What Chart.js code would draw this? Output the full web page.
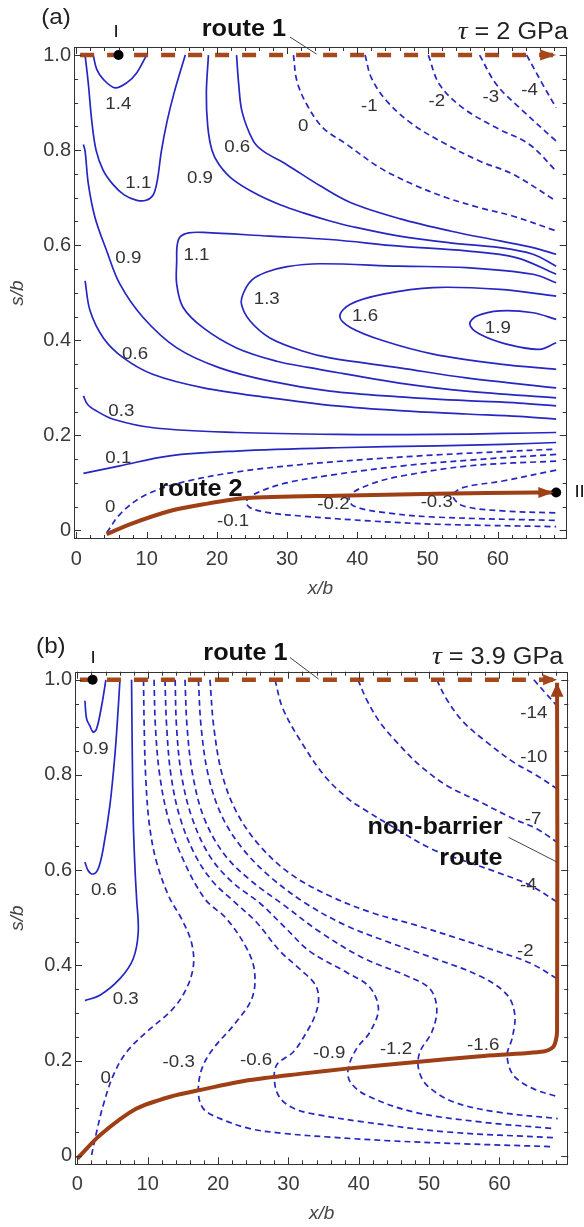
<!DOCTYPE html>
<html>
<head>
<meta charset="utf-8">
<script src="https://cdn.jsdelivr.net/npm/chart.js@4.4.0/dist/chart.umd.min.js"></script>
<style>
  html, body { margin: 0; padding: 0; background: #fff; }
  body { width: 584px; height: 1227px; position: relative; overflow: hidden; }
  .panel { position: absolute; left: 0; width: 584px; }
  #wrapA { top: 0; height: 605px; }
  #wrapB { top: 605px; height: 622px; }
</style>
</head>
<body>
<div class="panel" id="wrapA"><canvas id="chartA" width="584" height="605"></canvas></div>
<div class="panel" id="wrapB"><canvas id="chartB" width="584" height="622"></canvas></div>
<script>
// ---- axis ticks ----
const xMajor = [0, 10, 20, 30, 40, 50, 60];
const xMinor = [2, 4, 6, 8, 12, 14, 16, 18, 22, 24, 26, 28, 32, 34, 36, 38, 42, 44, 46, 48, 52, 54, 56, 58, 62, 64, 66, 68];
const yMajor = [0, 0.2, 0.4, 0.6, 0.8, 1.0];
const yMinor = [0.05, 0.1, 0.15, 0.25, 0.3, 0.35, 0.45, 0.5, 0.55, 0.65, 0.7, 0.75, 0.85, 0.9, 0.95];

// ---- panel (a), tau = 2 GPa : contour lines [x/b, s/b] ----
const a_14 = [[2.4,1.0],[2.9,0.97],[3.84,0.949],[5.5,0.931],[7.2,0.942],[8.6,0.963],[10.0,1.0]];
const a_11u = [[1.24,1.0],[1.7,0.94],[2.2,0.86],[2.8,0.80],[3.8,0.758],[5.2,0.728],[6.8,0.706],[8.5,0.695],[9.8,0.694],[10.9,0.705],[11.5,0.735],[12.1,0.798],[12.9,0.86],[13.9,0.92],[15.5,1.0]];
const a_09u = [[18.8,1.0],[18.5,0.92],[18.7,0.85],[19.3,0.80],[20.3,0.77],[22.3,0.738],[25.7,0.707],[29,0.685],[32.3,0.668],[36.1,0.651],[39,0.640],[46,0.619],[53.2,0.605],[60.3,0.595],[65,0.581],[68.3,0.556]];
const a_06u = [[22.8,1.0],[23.1,0.94],[23.6,0.88],[25.2,0.819],[26.6,0.798],[29.9,0.770],[34.7,0.725],[39.0,0.690],[46.0,0.656],[53.2,0.630],[60.3,0.609],[65.0,0.595],[68.3,0.581]];
const a_11m = [[68.3,0.539],[62.6,0.574],[55.5,0.588],[46,0.598],[36.1,0.612],[27.55,0.619],[18.07,0.627],[16,0.626],[14.8,0.618],[14.35,0.600],[14.28,0.567],[14.28,0.518],[15.2,0.469],[18.07,0.426],[22.8,0.384],[28.5,0.356],[33,0.343],[38,0.330],[46,0.310],[55.5,0.293],[68.3,0.279]];
const a_13 = [[68.3,0.521],[65,0.539],[55.5,0.553],[46,0.556],[34.7,0.561],[30,0.555],[27.0,0.543],[25,0.527],[23.8,0.50],[23.5,0.476],[24.7,0.441],[27.55,0.405],[32.3,0.377],[36.1,0.363],[46,0.342],[55.5,0.321],[68.3,0.300]];
const a_16 = [[68.3,0.493],[60.3,0.507],[50.8,0.511],[43.7,0.497],[39.0,0.476],[37.5,0.451],[39.0,0.427],[43.7,0.399],[50.8,0.371],[60.3,0.350],[68.3,0.339]];
const a_19 = [[68.3,0.444],[65,0.458],[60.3,0.462],[57,0.451],[56,0.434],[57.4,0.413],[61.2,0.392],[65.9,0.381],[68.3,0.395]];
const a_09l = [[1.0,0.812],[1.24,0.798],[1.71,0.728],[2.66,0.658],[4.32,0.588],[6.2,0.518],[9.5,0.448],[14.3,0.384],[20.4,0.342],[27.6,0.314],[36.1,0.293],[46,0.281],[55.5,0.273],[63,0.268],[68.3,0.262]];
const a_06l = [[1.24,0.525],[1.95,0.462],[3.84,0.405],[6.7,0.363],[10.95,0.328],[18.1,0.300],[27.6,0.279],[37,0.262],[46,0.252],[55.5,0.245],[63,0.240],[68.3,0.234]];
const a_03 = [[1.0,0.283],[1.6,0.265],[2.9,0.251],[5.26,0.234],[10.95,0.216],[22.8,0.206],[37,0.202],[51.3,0.202],[60.7,0.204],[68.3,0.206]];
const a_01 = [[1.0,0.120],[6.2,0.136],[13.3,0.157],[22.8,0.167],[37,0.174],[51.3,0.178],[60.7,0.181],[68.3,0.185]];
// dashed (negative / zero levels)
const a_0u = [[30.9,1.0],[31.4,0.945],[32.8,0.896],[35.1,0.847],[38.5,0.812],[43.2,0.763],[47.9,0.728],[52.7,0.700],[57.4,0.679],[62.2,0.661],[68.3,0.630]];
const a_m1 = [[41.1,1.0],[42.0,0.952],[44.2,0.903],[47.9,0.854],[52.7,0.812],[57.4,0.777],[62.2,0.749],[68.3,0.693]];
const a_m2 = [[50.1,1.0],[51.7,0.938],[55.0,0.889],[59.8,0.847],[64.5,0.812],[68.3,0.756]];
const a_m3 = [[57.4,1.0],[59.8,0.938],[63.1,0.889],[68.3,0.819]];
const a_m4 = [[64.1,1.0],[66.4,0.938],[68.3,0.889]];
const a_0b = [[4.32,-0.005],[6.2,0.034],[9.5,0.072],[14.75,0.100],[22.8,0.123],[32.3,0.139],[41.8,0.150],[51.3,0.159],[60.7,0.166],[68.3,0.171]];
const a_m01 = [[68.3,0.160],[56,0.148],[46.5,0.136],[37.0,0.118],[29.9,0.100],[25.7,0.079],[24.2,0.062],[24.7,0.048],[27.55,0.037],[32.3,0.030],[41.8,0.020],[51.3,0.013],[68.3,0.008]];
const a_m02 = [[68.3,0.146],[56,0.136],[46.5,0.115],[41.8,0.097],[38.9,0.073],[39.4,0.052],[44.2,0.037],[51.3,0.028],[68.3,0.021]];
const a_m03 = [[68.3,0.127],[60.7,0.104],[55.0,0.090],[53.6,0.073],[55.0,0.052],[60.7,0.041],[68.3,0.037]];
// routes and points
const a_route1 = [[0.53,1.0],[68.3,1.0]];
const a_route2 = [[4.3,-0.008],[7.6,0.013],[13.3,0.041],[18.1,0.055],[24.2,0.068],[37,0.073],[51.3,0.077],[65.5,0.080],[67.9,0.080]];
const a_points = [[6.0,1.0],[68.3,0.080]];
const a_labels = [
  ['1.4',5.97,0.896],['1.1',8.82,0.731],['0.9',17.6,0.740],['0.6',22.9,0.807],['0',32.3,0.851],
  ['-1',41.7,0.893],['-2',51.3,0.903],['-3',59.0,0.912],['-4',64.5,0.926],
  ['0.9',7.4,0.573],['1.1',17.1,0.579],['1.3',27.1,0.486],['1.6',41.1,0.451],['1.9',60.0,0.425],
  ['0.6',8.35,0.37],['0.3',6.4,0.250],['0.1',5.97,0.152],['0',4.8,0.048],
  ['-0.1',22.3,0.020],['-0.2',36.6,0.054],['-0.3',51.3,0.060]
];

// ---- panel (b), tau = 3.9 GPa ----
const b_09 = [[1.07,0.956],[1.31,0.918],[1.78,0.903],[2.25,0.890],[2.73,0.897],[3.44,0.945],[4.05,1.0]];
const b_06 = [[1.07,0.617],[1.54,0.599],[2.25,0.592],[2.96,0.603],[3.67,0.645],[4.62,0.736],[5.33,0.841],[5.8,0.939],[6.05,1.0]];
const b_03 = [[7.7,1.0],[7.8,0.85],[7.95,0.70],[8.2,0.60],[8.42,0.54],[8.65,0.47],[7.94,0.414],[6.05,0.372],[3.2,0.337],[1.07,0.326]];
const b_0 = [[9.4,1.0],[9.5,0.9],[9.7,0.8],[10.2,0.7],[11.2,0.62],[13.0,0.545],[14.8,0.498],[16.2,0.449],[16.5,0.40],[15.5,0.351],[13.6,0.309],[9.84,0.260],[7.0,0.218],[5.1,0.169],[3.67,0.106],[2.73,0.050],[2.0,0.0]];
const b_m03 = [[10.9,1.0],[11.1,0.9],[11.7,0.8],[12.9,0.71],[14.8,0.63],[18.1,0.54],[21.2,0.498],[24.1,0.435],[25.2,0.386],[24.8,0.330],[22.2,0.274],[19.3,0.225],[17.7,0.183],[17.2,0.134],[17.9,0.099],[20.3,0.078],[24.5,0.057],[29.3,0.047],[36,0.039],[45,0.031],[55,0.025],[67.7,0.019]];
const b_m06 = [[12.45,1.0],[12.7,0.9],[13.3,0.8],[14.6,0.71],[16.8,0.63],[19.3,0.575],[22.2,0.535],[25.5,0.49],[28.8,0.43],[31.8,0.39],[33.8,0.36],[34.3,0.33],[33.8,0.295],[32.6,0.260],[30.7,0.218],[28.3,0.19],[28.1,0.148],[29.0,0.118],[31.0,0.098],[33.5,0.088],[40.7,0.071],[52.5,0.050],[67.7,0.038]];
const b_m09 = [[13.9,1.0],[14.1,0.9],[14.8,0.8],[16.3,0.71],[18.8,0.63],[22,0.575],[26,0.53],[29.5,0.48],[33,0.43],[38.3,0.385],[41.5,0.355],[42.8,0.309],[41.6,0.260],[39.7,0.225],[38.5,0.183],[38.8,0.155],[41.1,0.127],[47.8,0.092],[57.3,0.071],[67.7,0.057]];
const b_m12 = [[15.3,1.0],[15.6,0.9],[16.4,0.8],[18.0,0.71],[20.8,0.635],[24.5,0.58],[29.5,0.525],[34.5,0.47],[40.7,0.415],[46.8,0.378],[50.1,0.351],[51.1,0.309],[50.4,0.260],[48.7,0.218],[48.5,0.183],[49.7,0.148],[53.5,0.113],[59.6,0.092],[68.3,0.078]];
const b_m16 = [[17.2,1.0],[17.6,0.9],[18.6,0.8],[20.5,0.715],[23.5,0.645],[27.5,0.585],[32.5,0.53],[38,0.485],[44,0.45],[50.1,0.418],[57.3,0.377],[61.1,0.338],[62.2,0.295],[61.8,0.246],[61.1,0.211],[62,0.169],[64.8,0.141],[68.3,0.124]];
const b_m2 = [[18.85,1.0],[19.4,0.9],[20.6,0.8],[22.7,0.72],[26,0.65],[30.5,0.59],[36,0.545],[42,0.51],[48,0.485],[54,0.457],[60,0.428],[64.5,0.404],[68.2,0.372]];
const b_m4 = [[28.1,1.0],[29.2,0.94],[31.8,0.87],[35.2,0.797],[38.5,0.75],[40.5,0.73],[45.2,0.688],[50.3,0.645],[54.9,0.62],[59.6,0.596],[64.4,0.568],[68.2,0.533]];
const b_m7 = [[39.9,1.0],[41.1,0.959],[43.0,0.911],[45.4,0.869],[48.7,0.820],[52.5,0.778],[57.3,0.743],[62.0,0.708],[65.3,0.687],[68.2,0.659]];
const b_m10 = [[51.1,1.0],[52.5,0.959],[54.9,0.911],[58.2,0.869],[62.0,0.827],[65.3,0.799],[68.2,0.771]];
const b_m14 = [[64.9,1.0],[66.5,0.973],[68.2,0.945]];
const b_route1 = [[0.36,1.0],[68.2,1.0]];
const b_route = [[0,-0.006],[3.2,0.043],[8.4,0.099],[13.2,0.124],[17.4,0.138],[24.5,0.159],[31.6,0.172],[38.3,0.183],[48.2,0.197],[57.3,0.209],[66.3,0.219],[67.7,0.229],[68.2,0.26],[68.2,0.994]];
const b_points = [[2.16,1.0]];
const b_labels = [
  ['0.9',2.6,0.854],['0.6',3.77,0.557],['0.3',6.87,0.328],['0',4.03,0.162],
  ['-0.3',14.4,0.197],['-0.6',25.4,0.201],['-0.9',35.8,0.215],['-1.2',45.3,0.223],['-1.6',57.7,0.232],
  ['-2',63.7,0.430],['-4',64.1,0.569],['-7',64.8,0.706],['-10',64.9,0.837],['-14',64.9,0.930]
];

// ---- styling ----
const BLUE = '#2626c2';
const BROWN = '#9e3f16';
const BROWN_DASH = '#a5481c';
const FONT = '"Liberation Sans", Arial, sans-serif';
const STRETCH = 1.1;
Chart.defaults.font.family = FONT;

const toXY = arr => arr.map(([x, y]) => ({x, y}));

function contour(arr, dashed) {
  return {
    data: toXY(arr), showLine: true, pointRadius: 0, borderColor: BLUE,
    borderWidth: 1.7, borderDash: dashed ? [6, 4] : [], tension: 0.35, order: 3
  };
}

function drawText(ctx, str, x, y, font, align) {
  ctx.save();
  ctx.font = font;
  ctx.translate(x, y);
  ctx.scale(STRETCH, 1);
  ctx.textAlign = align;
  ctx.textBaseline = 'middle';
  ctx.fillText(str, 0, 0);
  ctx.restore();
}

function makeNotes(cfg) {
  return {
    id: 'notes',
    afterDatasetsDraw(chart) {
      const {ctx, chartArea: a} = chart;
      const sx = chart.scales.x, sy = chart.scales.y;
      const px = v => sx.getPixelForValue(v), py = v => sy.getPixelForValue(v);
      ctx.save();
      // frame with inward ticks on all four sides
      ctx.strokeStyle = '#333';
      ctx.lineWidth = 1;
      ctx.strokeRect(Math.round(a.left) + 0.5, Math.round(a.top) + 0.5,
        Math.round(a.right - a.left) - 1, Math.round(a.bottom - a.top) - 1);
      ctx.beginPath();
      const xt = (vals, len) => vals.forEach(v => {
        const p = Math.round(px(v)) + 0.5;
        ctx.moveTo(p, a.bottom); ctx.lineTo(p, a.bottom - len);
        ctx.moveTo(p, a.top); ctx.lineTo(p, a.top + len);
      });
      const yt = (vals, len) => vals.forEach(v => {
        const p = Math.round(py(v)) + 0.5;
        ctx.moveTo(a.left, p); ctx.lineTo(a.left + len, p);
        ctx.moveTo(a.right, p); ctx.lineTo(a.right - len, p);
      });
      xt(xMajor, 7); xt(xMinor, 4); yt(yMajor, 7); yt(yMinor, 4);
      ctx.stroke();

      // arrow heads
      cfg.arrows.forEach(ar => {
        const x1 = px(ar.from[0]), y1 = py(ar.from[1]);
        const x2 = px(ar.to[0]), y2 = py(ar.to[1]);
        const ang = Math.atan2(y2 - y1, x2 - x1);
        const L = ar.len, W = ar.half;
        ctx.fillStyle = ar.color;
        ctx.beginPath();
        ctx.moveTo(x2, y2);
        ctx.lineTo(x2 - L * Math.cos(ang) + W * Math.sin(ang), y2 - L * Math.sin(ang) - W * Math.cos(ang));
        ctx.lineTo(x2 - L * Math.cos(ang) - W * Math.sin(ang), y2 - L * Math.sin(ang) + W * Math.cos(ang));
        ctx.closePath();
        ctx.fill();
      });

      // callout lines
      ctx.strokeStyle = '#444';
      ctx.lineWidth = 1;
      cfg.callouts.forEach(c => {
        ctx.beginPath();
        ctx.moveTo(px(c[0][0]), py(c[0][1]));
        ctx.lineTo(px(c[1][0]), py(c[1][1]));
        ctx.stroke();
      });

      // contour labels
      ctx.fillStyle = '#333';
      cfg.labels.forEach(([t, x, y]) => drawText(ctx, t, px(x), py(y), '17px ' + FONT, 'center'));

      // text annotations
      cfg.texts.forEach(t => {
        ctx.fillStyle = t.color || '#111';
        drawText(ctx, t.text, px(t.x), py(t.y), t.font, t.align || 'left');
      });

      // tau = ... GPa (italic tau)
      const tau = cfg.tau;
      ctx.fillStyle = '#222';
      ctx.font = '23px ' + FONT;
      const wRest = ctx.measureText(tau.rest).width * STRETCH;
      ctx.font = 'italic 25px "Liberation Serif", serif';
      const wTau = ctx.measureText('\u03C4').width * STRETCH;
      const xr = px(tau.x), yc = py(tau.y);
      drawText(ctx, tau.rest, xr - wRest, yc, '23px ' + FONT, 'left');
      drawText(ctx, '\u03C4', xr - wRest - wTau, yc, 'italic 25px "Liberation Serif", serif', 'left');
      ctx.restore();
    }
  };
}

function makeChart(id, cfg) {
  const datasets = [];
  datasets.push({data: toXY(cfg.points), showLine: false, pointRadius: 5, pointBackgroundColor: '#000', pointBorderWidth: 0, order: 0});
  cfg.routes.forEach(r => datasets.push({
    data: toXY(r.data), showLine: true, pointRadius: 0, borderColor: r.dashed ? BROWN_DASH : BROWN,
    borderWidth: r.dashed ? 4.5 : 4, borderDash: r.dashed ? [14, 13] : [], borderCapStyle: 'butt',
    tension: r.dashed ? 0 : 0.25, order: 1
  }));
  cfg.solid.forEach(c => datasets.push(contour(c, false)));
  cfg.dashed.forEach(c => datasets.push(contour(c, true)));

  return new Chart(document.getElementById(id), {
    type: 'scatter',
    data: {datasets},
    options: {
      responsive: false,
      animation: false,
      events: [],
      layout: {padding: {top: cfg.top, right: cfg.right, left: 0, bottom: 0}},
      plugins: {legend: {display: false}, tooltip: {enabled: false}},
      scales: {
        x: {
          type: 'linear', min: -0.34, max: 69.8,
          grid: {display: false, drawTicks: false},
          border: {display: false},
          afterBuildTicks: s => { s.ticks = xMajor.map(v => ({value: v})); },
          afterFit: s => { s.height = cfg.xh; },
          ticks: {autoSkip: false, maxRotation: 0, padding: 8, color: '#3a3a3a', font: {size: 20},
                  callback: v => String(v)},
          title: {display: true, text: 'x/b', color: '#444', font: {size: 19, style: 'italic'},
                  padding: {top: 0, bottom: cfg.xtb}}
        },
        y: {
          type: 'linear', min: -0.018, max: 1.017,
          grid: {display: false, drawTicks: false},
          border: {display: false},
          afterBuildTicks: s => { s.ticks = yMajor.map(v => ({value: v})); },
          afterFit: s => { s.width = cfg.left; },
          ticks: {autoSkip: false, padding: 3, color: '#3a3a3a', font: {size: 20},
                  callback: v => (v === 0 ? '0' : v.toFixed(1))},
          title: {display: true, text: 's/b', color: '#444', font: {size: 19, style: 'italic'},
                  padding: {top: 6, bottom: 0}}
        }
      }
    },
    plugins: [makeNotes(cfg)]
  });
}

makeChart('chartA', {
  top: 47, right: 17.3, left: 74, xh: 66, xtb: 4.6,
  points: a_points,
  routes: [{data: a_route1, dashed: true}, {data: a_route2, dashed: false}],
  solid: [a_14, a_11u, a_09u, a_06u, a_11m, a_13, a_16, a_19, a_09l, a_06l, a_03, a_01],
  dashed: [a_0u, a_m1, a_m2, a_m3, a_m4, a_0b, a_m01, a_m02, a_m03],
  labels: a_labels,
  arrows: [
    {from: [66.0, 1.0], to: [68.3, 1.0], len: 16, half: 5.5, color: BROWN_DASH},
    {from: [65.0, 0.0795], to: [67.9, 0.080], len: 15, half: 5.5, color: BROWN}
  ],
  callouts: [[[30.4, 1.038], [34.2, 1.002]]],
  texts: [
    {text: '(a)', x: -2.89, y: 1.078, font: '22px ' + FONT, align: 'center', color: '#222'},
    {text: 'I', x: 5.65, y: 1.047, font: '17px ' + FONT, align: 'center'},
    {text: 'route 1', x: 17.84, y: 1.054, font: 'bold 23px ' + FONT, align: 'left'},
    {text: 'route 2', x: 11.66, y: 0.085, font: 'bold 23px ' + FONT, align: 'left'},
    {text: 'II', x: 70.9, y: 0.080, font: '17px ' + FONT, align: 'left'}
  ],
  tau: {rest: ' = 2 GPa', x: 69.99, y: 1.047}
});

makeChart('chartB', {
  top: 66.7, right: 15.7, left: 75, xh: 62.7, xtb: 1.6,
  points: b_points,
  routes: [{data: b_route1, dashed: true}, {data: b_route, dashed: false}],
  solid: [b_09, b_06, b_03],
  dashed: [b_0, b_m03, b_m06, b_m09, b_m12, b_m16, b_m2, b_m4, b_m7, b_m10, b_m14],
  labels: b_labels,
  arrows: [
    {from: [66.0, 1.0], to: [68.2, 1.0], len: 14, half: 5.5, color: BROWN_DASH},
    {from: [68.2, 0.95], to: [68.2, 0.994], len: 14, half: 6.5, color: BROWN}
  ],
  callouts: [[[30.2, 1.047], [34.3, 1.0015]], [[61.3, 0.669], [68.2, 0.617]]],
  texts: [
    {text: '(b)', x: -3.77, y: 1.0686, font: '22px ' + FONT, align: 'center', color: '#222'},
    {text: 'I', x: 2.25, y: 1.0455, font: '17px ' + FONT, align: 'center'},
    {text: 'route 1', x: 17.9, y: 1.054, font: 'bold 23px ' + FONT, align: 'left'},
    {text: 'non-barrier', x: 60.45, y: 0.689, font: 'bold 23px ' + FONT, align: 'right'},
    {text: 'route', x: 60.45, y: 0.624, font: 'bold 23px ' + FONT, align: 'right'}
  ],
  tau: {rest: ' = 3.9 GPa', x: 69.1, y: 1.047}
});
</script>
</body>
</html>
